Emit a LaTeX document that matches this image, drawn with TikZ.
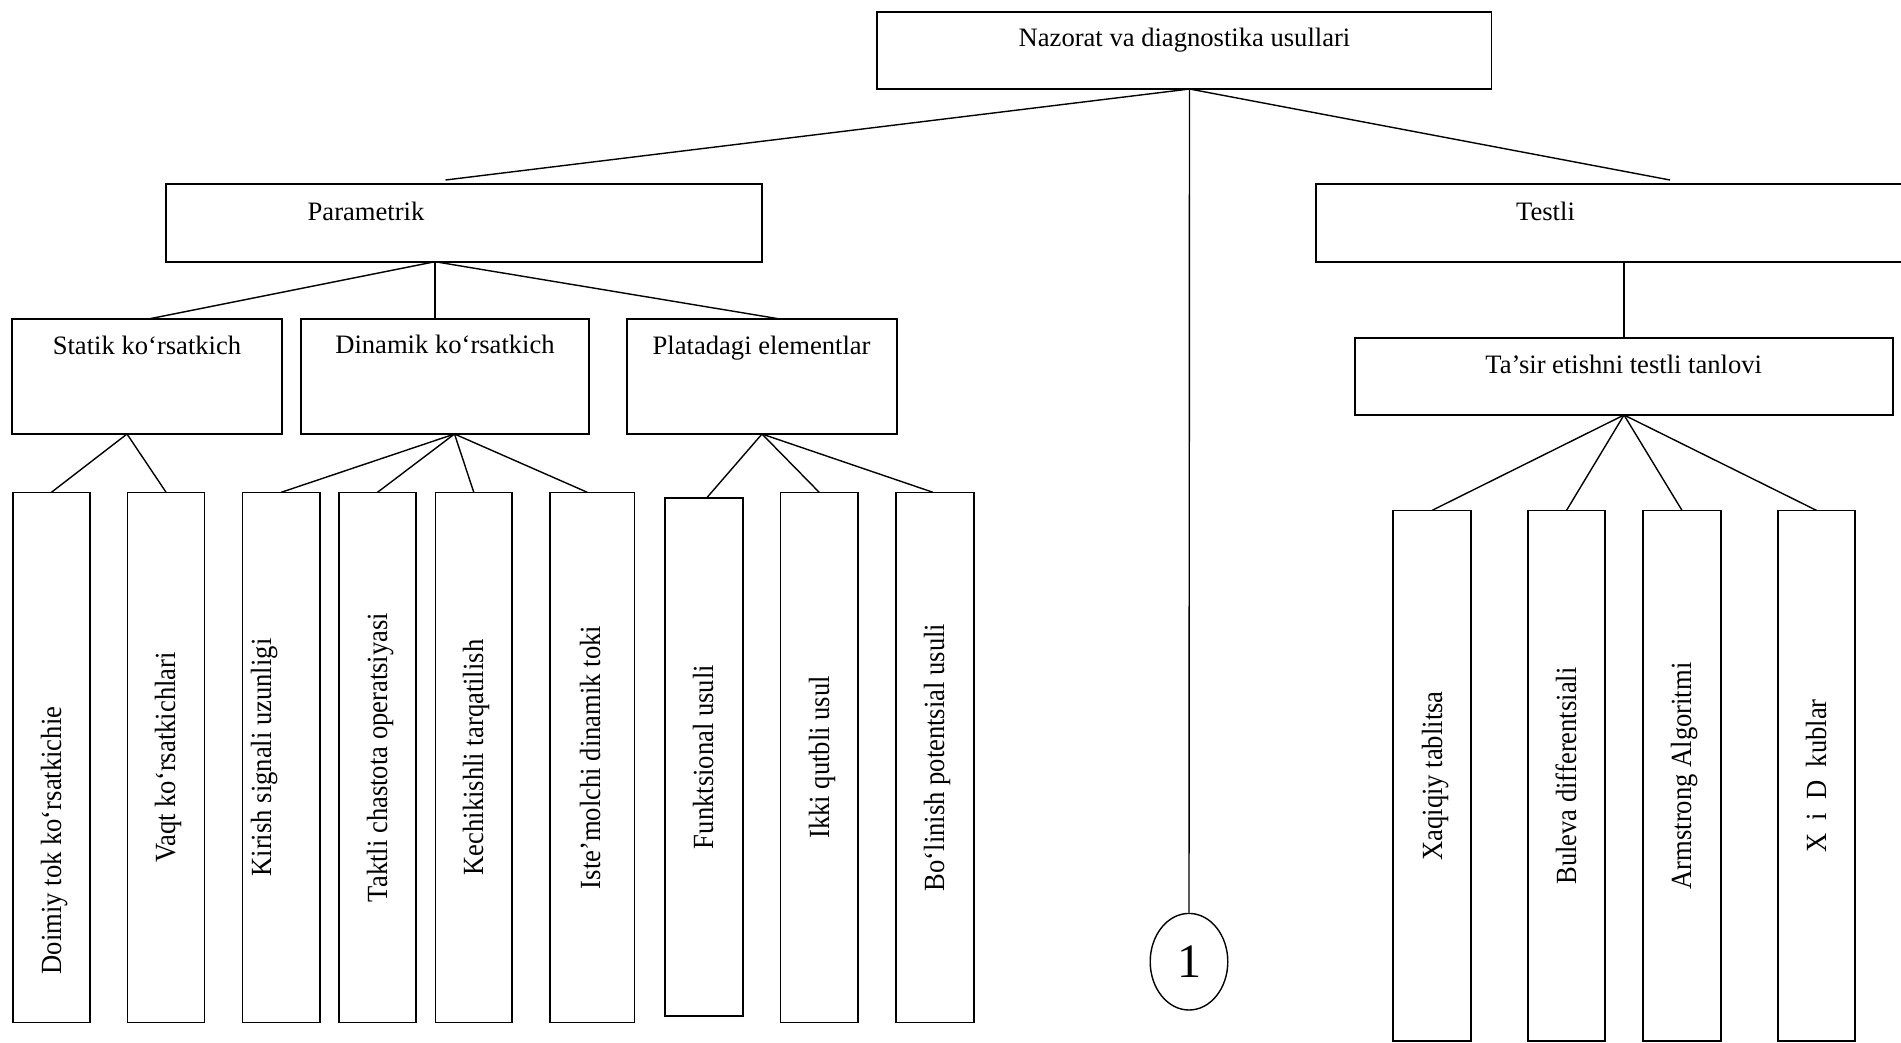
\documentclass[tikz,border=0pt]{standalone}
\usepackage{fontspec}
\setmainfont{Liberation Serif}
\usepackage{graphicx}
\usetikzlibrary{shapes.geometric}
% labels in the narrow boxes are set a little wider across
\newcommand{\widelbl}[1]{\scalebox{1}[1.1]{#1}}
\begin{document}
\begin{tikzpicture}[x=1pt, y=-1pt,
  blk/.style={draw, line width=1.8pt, inner sep=0pt, outer sep=0pt},
  leaf/.style={draw, line width=1.5pt, inner sep=0pt, outer sep=0pt, minimum height=530.2pt},
  rleaf/.style={leaf, minimum height=530.6pt},
  link/.style={line width=1.4pt},
  hlbl/.style={anchor=base, inner sep=0pt, font=\fontsize{26.6}{30}\selectfont},
  vlbl/.style={anchor=base, rotate=90, inner sep=0pt, font=\fontsize{26.6}{30}\selectfont},
]
\useasboundingbox (0,0) rectangle (1901,1042);
\fill[white] (0,0) rectangle (1901,1042);
\clip (0,0) rectangle (1901,1042);

% ---- upper level boxes ----
\node[blk, minimum width=614.5pt, minimum height=77.3pt] (top) at (1184.25,50.35) {};
\node[blk, minimum width=596pt, minimum height=77.4pt] (param) at (464,223) {};
\node[blk, minimum width=605pt, minimum height=77.4pt] (testli) at (1618.5,223) {};
\node[blk, minimum width=270pt, minimum height=115pt] (statik) at (147,376.5) {};
\node[blk, minimum width=288.4pt, minimum height=115pt] (dinamik) at (444.8,376.5) {};
\node[blk, minimum width=270pt, minimum height=115pt] (plata) at (762,376.5) {};
\node[blk, minimum width=538pt, minimum height=77pt] (tasir) at (1624,376.5) {};

\node[hlbl] (t-top) at (1184.5,46.7) {Nazorat va diagnostika usullari};
\node[hlbl] (t-param) at (366,220) {Parametrik};
\node[hlbl] (t-testli) at (1545.5,220) {Testli};
\node[hlbl] (t-statik) at (147,354) {Statik ko‘rsatkich};
\node[hlbl] (t-dinamik) at (445,353) {Dinamik ko‘rsatkich};
\node[hlbl] (t-plata) at (761.6,354) {Platadagi elementlar};
\node[hlbl] (t-tasir) at (1623.7,373) {Ta’sir etishni testli tanlovi};

% ---- leaf boxes, left branch ----
\node[leaf, minimum width=77.2pt] (doimiy) at (51.4,757.4) {};
\node[leaf, minimum width=77.2pt] (vaqt) at (166.1,757.4) {};
\node[leaf, minimum width=77.7pt] (kirish) at (281.2,757.4) {};
\node[leaf, minimum width=77pt] (taktli) at (377.5,757.4) {};
\node[leaf, minimum width=76.4pt] (kech) at (473.8,757.4) {};
\node[leaf, minimum width=84.6pt] (iste) at (592.3,757.4) {};
\node[leaf, minimum width=78pt, minimum height=518pt] (funk) at (704,757) {};
\node[leaf, minimum width=77.2pt] (ikki) at (819.2,757.4) {};
\node[leaf, minimum width=78pt] (bolin) at (935,757.4) {};

\node[vlbl] (t-doimiy) at (61.7,840.5) {\widelbl{Doimiy tok ko‘rsatkichie}};
\node[vlbl] (t-vaqt) at (175.9,757.5) {\widelbl{Vaqt ko‘rsatkichlari}};
\node[vlbl] (t-kirish) at (271.7,757.5) {\widelbl{Kirish signali uzunligi}};
\node[vlbl] (t-taktli) at (387.3,757.5) {\widelbl{Taktli chastota operatsiyasi}};
\node[vlbl] (t-kech) at (483.5,757.5) {\widelbl{Kechikishli tarqatilish}};
\node[vlbl] (t-iste) at (600,757.5) {\widelbl{Iste’molchi dinamik toki}};
\node[vlbl] (t-funk) at (713.8,757) {\widelbl{Funktsional usuli}};
\node[vlbl] (t-ikki) at (829,757.5) {\widelbl{Ikki qutbli usul}};
\node[vlbl] (t-bolin) at (944.7,757.5) {\widelbl{Bo‘linish potentsial usuli}};

% ---- leaf boxes, right branch ----
\node[rleaf, minimum width=78pt] (xaq) at (1432,775.7) {};
\node[rleaf, minimum width=77pt] (bul) at (1566.5,775.7) {};
\node[rleaf, minimum width=78pt] (arm) at (1682,775.7) {};
\node[rleaf, minimum width=77pt] (xid) at (1816.5,775.7) {};

\node[vlbl] (t-xaq) at (1442,776) {\widelbl{Xaqiqiy tablitsa}};
\node[vlbl] (t-bul) at (1576,776) {\widelbl{Buleva differentsiali}};
\node[vlbl] (t-arm) at (1691.5,776) {\widelbl{Armstrong Algoritmi}};
\node[vlbl] (t-xid) at (1826,776) {\widelbl{X\hspace{0.5em}i\hspace{0.5em}D\hspace{0.5em}kublar}};

% ---- page reference mark ----
\node[draw, ellipse, line width=1.4pt, inner sep=0pt, minimum width=77.6pt, minimum height=96.6pt,
      font=\fontsize{48}{50}\selectfont] (one) at (1189,961.7) {1};

% ---- connectors ----
\coordinate (topfoot) at ([xshift=5.25pt]top.south);
\coordinate (parTip) at (445.5,180);
\coordinate (tstTip) at (1670,180);
\draw[link] (topfoot) -- (parTip);
\draw[link] (topfoot) -- (tstTip);
\draw[link] (topfoot) -- (one.north);

\coordinate (parfoot) at ([xshift=-29pt]param.south);
\draw[link] (parfoot) -- ([xshift=1.5pt]statik.north);
\draw[link] (parfoot) -- (parfoot |- dinamik.north);
\draw[link] (parfoot) -- ([xshift=18pt]plata.north);

\coordinate (stfoot) at ([xshift=-20pt]statik.south);
\draw[link] (stfoot) -- (doimiy.north);
\draw[link] (stfoot) -- (vaqt.north);

\coordinate (dnfoot) at ([xshift=9.7pt]dinamik.south);
\draw[link] (dnfoot) -- (kirish.north);
\draw[link] (dnfoot) -- (taktli.north);
\draw[link] (dnfoot) -- (kech.north);
\draw[link] (dnfoot) -- ([xshift=-5pt]iste.north);

\draw[link] (plata.south) -- ([xshift=2.6pt]funk.north);
\draw[link] (plata.south) -- (ikki.north);
\draw[link] (plata.south) -- ([xshift=-2pt]bolin.north);

\draw[link] (tasir.north |- testli.south) -- (tasir.north);
\draw[link] (tasir.south) -- (xaq.north);
\draw[link] (tasir.south) -- (bul.north);
\draw[link] (tasir.south) -- (arm.north);
\draw[link] (tasir.south) -- (xid.north);
\end{tikzpicture}
\end{document}
